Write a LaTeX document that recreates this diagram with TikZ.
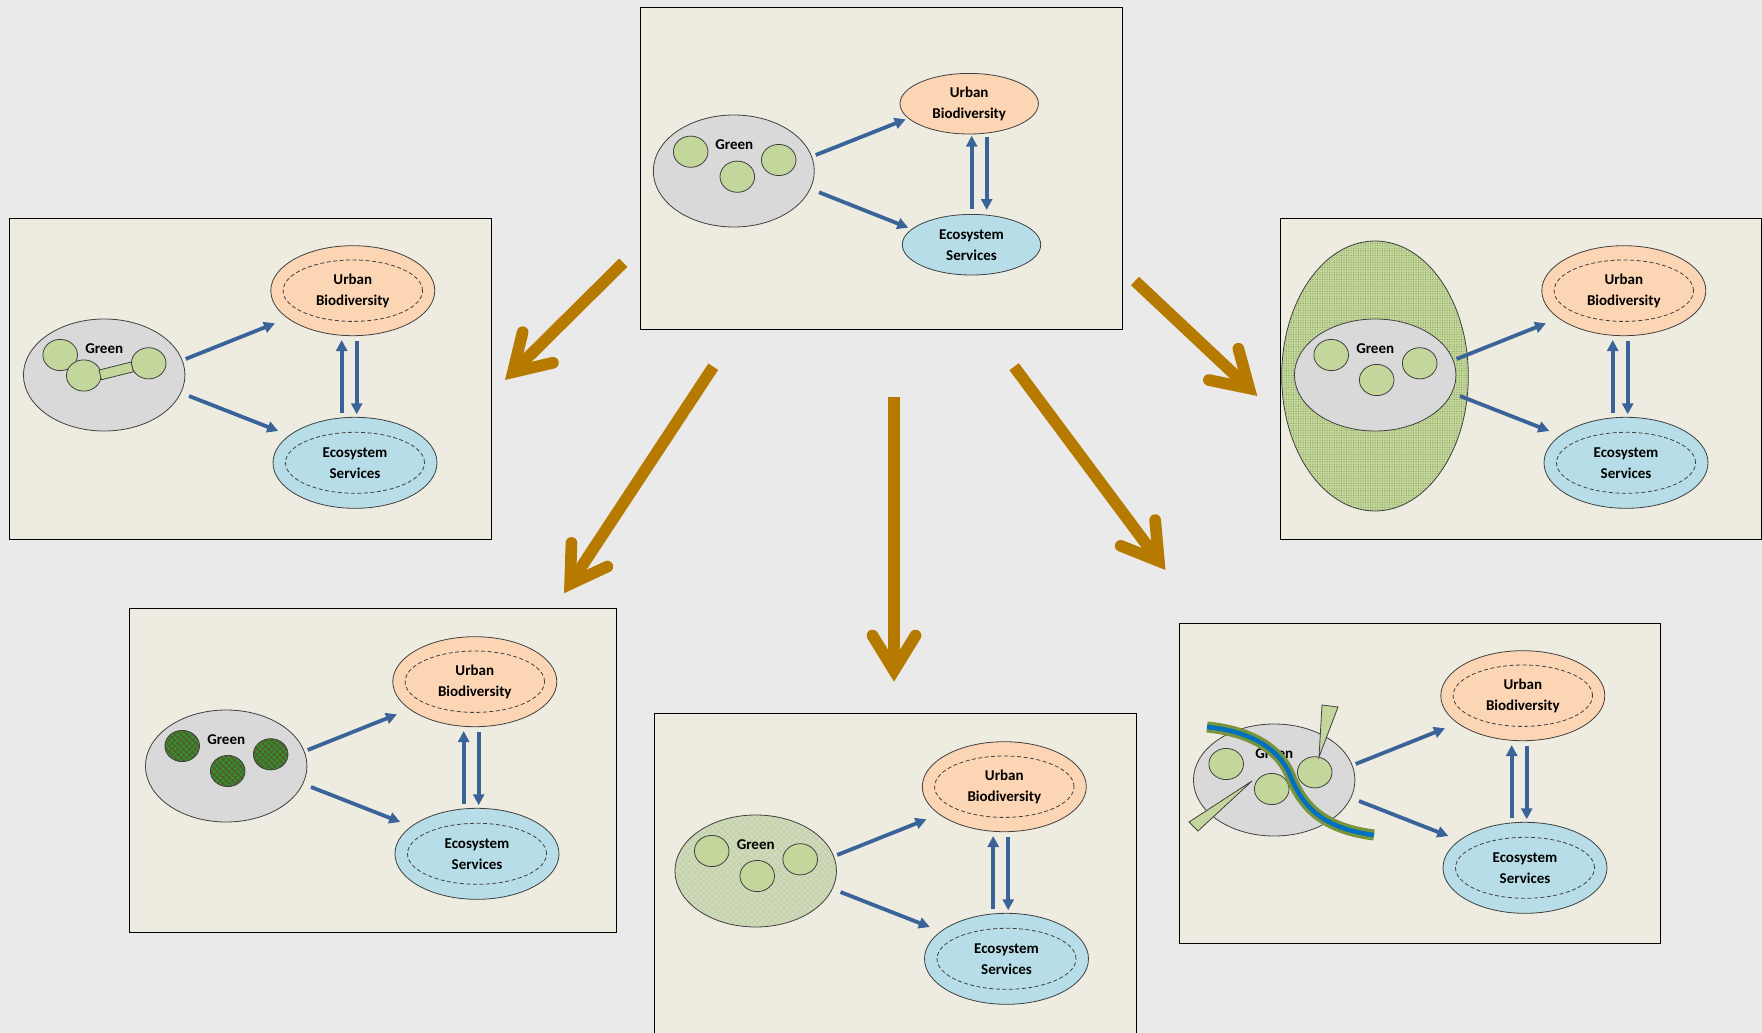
\documentclass[tikz,border=0pt]{standalone}
\usepackage{fontspec}
\setmainfont{Carlito}
\usepackage{tikz}
\usetikzlibrary{arrows.meta,shapes.geometric,patterns.meta,calc}

\definecolor{canvasgray}{RGB}{234,234,234}
\definecolor{paneltan}{RGB}{238,236,225}
\definecolor{patchgray}{RGB}{217,217,217}
\definecolor{leafgreen}{RGB}{195,214,155}
\definecolor{dotgreen}{RGB}{110,140,60}
\definecolor{checkbase}{RGB}{212,214,206}
\definecolor{ubpeach}{RGB}{252,213,181}
\definecolor{esaqua}{RGB}{183,222,232}
\definecolor{flowblue}{RGB}{58,100,153}
\definecolor{ochre}{RGB}{183,122,0}
\definecolor{rimgrey}{RGB}{64,64,64}
\definecolor{olivedark}{RGB}{79,98,40}
\definecolor{meshgreen}{RGB}{40,165,60}
\definecolor{riverblue}{RGB}{0,112,192}
\definecolor{bankgreen}{RGB}{119,147,60}

\newcommand\lbl{\fontsize{15}{21}\selectfont\bfseries}

\tikzset{
  panel/.style={fill=paneltan, draw=black, line width=1pt},
  greenarea/.style={ellipse, draw=rimgrey, fill=patchgray, line width=0.8pt,
    minimum width=161.5pt, minimum height=112pt, inner sep=0pt},
  checkarea/.style={greenarea, preaction={fill=checkbase},
    pattern={Hatch[angle=45,distance=4.2pt,line width=1.1pt]}, pattern color=leafgreen},
  dotarea/.style={ellipse, draw=rimgrey, line width=0.8pt, preaction={fill=leafgreen},
    pattern={Dots[radius=0.5pt,distance=2.4pt]}, pattern color=dotgreen,
    minimum width=186.6pt, minimum height=270pt, inner sep=0pt},
  patch/.style={ellipse, draw=rimgrey, fill=leafgreen, line width=0.8pt,
    minimum width=34.6pt, minimum height=31.2pt, inner sep=0pt},
  meshpatch/.style={patch, preaction={fill=olivedark},
    pattern={Hatch[angle=45,distance=4pt,line width=0.6pt]}, pattern color=meshgreen},
  urbanarea/.style={ellipse, draw=rimgrey, fill=ubpeach, line width=0.8pt,
    minimum width=164pt, minimum height=90pt, inner sep=0pt, align=center, font=\lbl},
  servicearea/.style={urbanarea, fill=esaqua},
  innerring/.style={draw=rimgrey, line width=0.8pt, dash pattern=on 4pt off 2.5pt},
  word/.style={font=\lbl, inner sep=0pt},
  flow/.style={draw=flowblue, line width=3.8pt, -{Triangle[length=11pt,width=11pt]}},
  bigarrow/.style={draw=ochre, line width=11.7pt,
    -{Straight Barb[length=35pt,width=43pt,line cap=round]}},
  wedge/.style={fill=leafgreen, draw=rimgrey, line width=0.8pt}
}

\begin{document}
\begin{tikzpicture}[x=1pt, y=-1pt]
\useasboundingbox (0,0) rectangle (1762,1033);
\clip (0,0) rectangle (1762,1033);
\fill[canvasgray] (0,0) rectangle (1762,1033);

% panels
\foreach \x/\y/\w/\h in {640/8/482/321, 9/218/482/321, 1280/218/481/321,
    129/608/487/324, 654/713/482/330, 1179/623/481/320}
  \filldraw[panel] (\x,\y) rectangle ++(\w,\h);

% wide green matrix behind the right panel
\node[dotarea] (halo) at (1375,376) {};

% top panel: base case
\begin{scope}[shift={(640,8)}]
  \node[greenarea, minimum width=161pt] (g0) at (93.8,163) {};
  \path (g0) ++(0.5,-26.7) node[word] (gt0) {Green};
  \node[patch] (ca0) at ($(g0)+(-43.1,-19.3)$) {};
  \node[patch] (cb0) at ($(g0)+(3.5,5.7)$) {};
  \node[patch] (cc0) at ($(g0)+(44.9,-11)$) {};
  \node[urbanarea, minimum width=138.4pt, minimum height=60.6pt] (ub0) at (329.2,95.7)
    {Urban\\Biodiversity};
  \node[servicearea, minimum width=138.4pt, minimum height=60.6pt] (es0) at (331.5,236.7)
    {Ecosystem\\Services};
  \draw[flow] ($(g0)+(81.9,-16)$) -- ($(ub0)+(-63.5,15.6)$);
  \draw[flow] ($(g0)+(85.2,21.3)$) -- ($(es0)+(-63.2,-17)$);
  \draw[flow] ($(es0)+(0.2,-35.7)$) -- ($(ub0)+(2.5,32)$);
  \draw[flow] ($(ub0)+(17.5,33)$) -- ($(es0)+(15.2,-34.7)$);
\end{scope}

% five variants
\foreach \i/\ox/\oy/\gs/\cs/\cx/\cy/\bx/\by in {
    1/9/218/greenarea/patch/0/0/-20.4/0.5,
    2/1280/218/greenarea/patch/0/0/1.5/5,
    3/131/609/greenarea/meshpatch/0/0/1.5/5,
    4/660.5/714/checkarea/patch/0/0/1.5/5,
    5/1179/623/greenarea/patch/-4/4/1.5/5}{
  \begin{scope}[shift={(\ox,\oy)}]
    \node[\gs] (g\i) at (95.2,157) {};
    \path (g\i) ++(0,-26.7) node[word] (gt\i) {Green};
    \node[\cs] (ca\i) at ($(g\i)+(\cx-44,\cy-20)$) {};
    \node[\cs] (cb\i) at ($(g\i)+(\cx+\bx,\cy+\by)$) {};
    \node[\cs] (cc\i) at ($(g\i)+(\cx+44.5,\cy-11.7)$) {};
    \node[urbanarea] (ub\i) at (343.8,72.7) {Urban\\Biodiversity};
    \node[servicearea, minimum height=91pt] (es\i) at (346,244.8) {Ecosystem\\Services};
    \draw[innerring] (ub\i.center) ellipse [x radius=69.7pt, y radius=30.7pt];
    \draw[innerring] (es\i.center) ellipse [x radius=69.5pt, y radius=30.5pt];
    \draw[flow] ($(g\i)+(81.5,-16)$) -- ($(ub\i)+(-77.8,32.6)$);
    \draw[flow] ($(g\i)+(84.8,21)$) -- ($(es\i)+(-76.7,-31.8)$);
    \draw[flow] ($(es\i)+(-13.3,-49.5)$) -- ($(ub\i)+(-11.1,49.3)$);
    \draw[flow] ($(ub\i)+(3.9,50)$) -- ($(es\i)+(1.7,-48.5)$);
  \end{scope}
}

% corridor between two patches
\node[patch, rectangle, rotate=14, minimum width=33pt, minimum height=10pt] (bar1)
  at ($(cb1)!0.5!(cc1)+(0,1.5)$) {};

% river and green wedges
\begin{scope}[shift={(1179,623)}]
  \filldraw[wedge] (10,199) -- (19,208) -- (73,158) -- cycle;
  \filldraw[wedge] (143,82) -- (159,84) -- (140,134) -- cycle;
  \foreach \c/\w in {bankgreen/11, riverblue/4.5}
    \draw[\c, line width=\w pt] (28,104) .. controls (70,108) and (100,125) .. (111,152)
      .. controls (122,180) and (140,205) .. (195,212);
\end{scope}

% arrows from the base case to the variants
\foreach \a/\b/\c/\d [count=\k] in {623.3/262.7/505/380, 713.3/366.7/564/593.3,
    894/397/894/681.7, 1014.1/366.7/1165.5/570, 1135/281/1257.3/396}{
  \coordinate (from\k) at (\a,\b);
  \coordinate (to\k) at (\c,\d);
  \draw[bigarrow] (from\k) -- (to\k);
}
\end{tikzpicture}
\end{document}
